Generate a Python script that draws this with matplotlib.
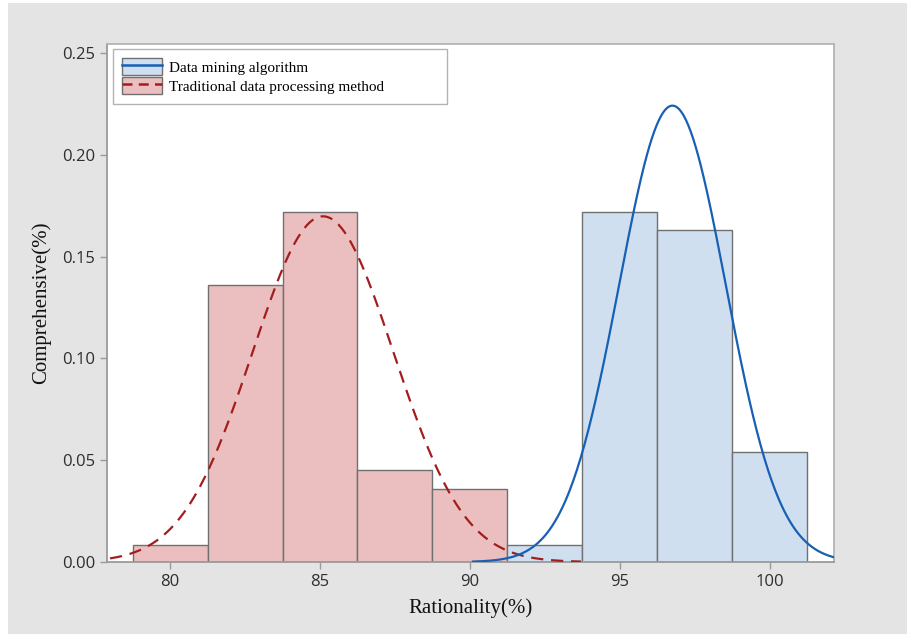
import numpy as np
import matplotlib.pyplot as plt
from matplotlib.patches import Patch, Rectangle
from matplotlib.lines import Line2D
from matplotlib.legend_handler import HandlerTuple

# bins are 2.5 wide
trad_edges = [78.75, 81.25, 83.75, 86.25, 88.75, 91.25]
trad_heights = [0.0085, 0.136, 0.172, 0.045, 0.036]
dm_edges = [91.25, 93.75, 96.25, 98.75, 101.25]
dm_heights = [0.0085, 0.172, 0.163, 0.054]

# fitted normal curves (mean, std, drawn range)
trad_mean, trad_std = 85.1, 2.35
trad_range = (78.0, 93.7)
dm_mean, dm_std = 96.75, 1.78
dm_range = (90.1, 102.3)

red_fill = '#ebbfbf'
blue_fill = '#d0dff0'
red_line = '#a31d1d'
blue_line = '#1760b5'
edge = '#707070'
dash = (0, (5.5, 3.5))

fig = plt.figure(figsize=(9.07, 6.34), dpi=100, facecolor='white')
fig.patches.append(Rectangle((8 / 907, 0), 1, 1 - 3 / 634, transform=fig.transFigure,
                             facecolor='#e4e4e4', edgecolor='none', zorder=-10))
ax = fig.add_axes([0.118, 0.1136, 0.802, 0.817])
ax.set_facecolor('white')


def norm_pdf(x, m, s):
    return np.exp(-0.5 * ((x - m) / s) ** 2) / (s * np.sqrt(2 * np.pi))


ax.bar(trad_edges[:-1], trad_heights, width=np.diff(trad_edges), align='edge',
       color=red_fill, edgecolor=edge, linewidth=1, zorder=2)
ax.bar(dm_edges[:-1], dm_heights, width=np.diff(dm_edges), align='edge',
       color=blue_fill, edgecolor=edge, linewidth=1, zorder=2)

xr = np.linspace(trad_range[0], trad_range[1], 300)
ax.plot(xr, norm_pdf(xr, trad_mean, trad_std), color=red_line, lw=1.6,
        ls=dash, zorder=3)
xb = np.linspace(dm_range[0], dm_range[1], 300)
ax.plot(xb, norm_pdf(xb, dm_mean, dm_std), color=blue_line, lw=1.6, zorder=3)

ax.set_xlim(77.9, 102.15)
ax.set_ylim(0, 0.2544)
ax.set_xticks([80, 85, 90, 95, 100])
ax.set_yticks([0, 0.05, 0.10, 0.15, 0.20, 0.25])
ax.set_yticklabels(['0.00', '0.05', '0.10', '0.15', '0.20', '0.25'])

for side in ['left', 'bottom']:
    ax.spines[side].set_color('#9a9a9a')
    ax.spines[side].set_linewidth(1.3)
for side in ['top', 'right']:
    ax.spines[side].set_color('#b4b4b4')
    ax.spines[side].set_linewidth(1.3)
ax.tick_params(direction='out', length=5, width=1, color='#9a9a9a',
               labelcolor='#2e2e2e', labelsize=12)
for lab in ax.get_xticklabels() + ax.get_yticklabels():
    lab.set_family('Open Sans')

ax.set_xlabel('Rationality(%)', family='Liberation Serif', fontsize=15, color='#111111', labelpad=6)
ax.set_ylabel('Comprehensive(%)', family='Liberation Serif', fontsize=15, color='#111111', labelpad=8)

h1 = (Patch(facecolor=blue_fill, edgecolor=edge), Line2D([], [], color=blue_line, lw=1.8))
h2 = (Patch(facecolor=red_fill, edgecolor=edge), Line2D([], [], color=red_line, lw=1.8, ls=(0, (4, 2.5))))
leg = ax.legend([h1, h2], ['Data mining algorithm', 'Traditional data processing method'],
                handler_map={tuple: HandlerTuple(ndivide=1, pad=0)},
                loc='upper left', bbox_to_anchor=(0.0082, 0.0, 0.459, 0.99),
                mode='expand', fancybox=False,
                prop={'family': 'Liberation Serif', 'size': 11}, handlelength=2.6,
                handleheight=1.35, handletextpad=0.45, labelspacing=0.12,
                borderpad=0.6, borderaxespad=0)
leg.get_frame().set_edgecolor('#a0a0a0')
leg.get_frame().set_linewidth(1)

fig.savefig('out.png', dpi=100, facecolor=fig.get_facecolor())
